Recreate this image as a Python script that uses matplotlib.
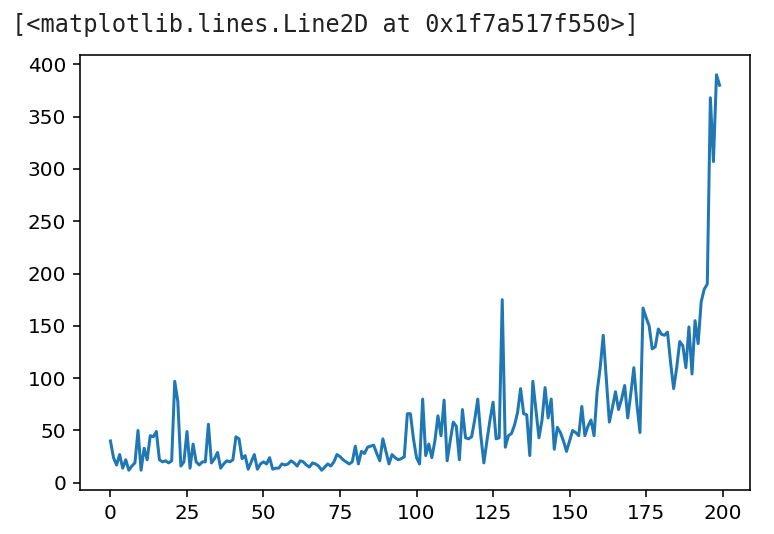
import numpy as np
import matplotlib
matplotlib.use('Agg')
import matplotlib.pyplot as plt

# values, index 0..199
vals = [40, 24, 17, 27, 14, 22, 12, 16, 19, 50,
        12, 33, 22, 45, 44, 49, 22, 20, 21, 19,
        21, 97, 78, 16, 20, 49, 14, 37, 20, 17,
        20, 20, 56, 19, 23, 29, 14, 18, 21, 20,
        22, 44, 42, 23, 26, 13, 20, 27, 13, 18,
        20, 18, 24, 13, 14, 14, 18, 17, 18, 21,
        19, 16, 21, 20, 17, 15, 19, 18, 16, 12,
        15, 18, 16, 20, 27, 25, 22, 20, 18, 20,
        35, 18, 30, 28, 34, 35, 36, 28, 21, 42,
        30, 18, 27, 24, 22, 23, 25, 66, 66, 42,
        24, 18, 80, 26, 37, 24, 40, 64, 45, 79,
        21, 40, 58, 54, 22, 70, 43, 42, 44, 60,
        80, 45, 19, 40, 60, 77, 42, 43, 175, 34,
        45, 47, 55, 67, 90, 66, 65, 26, 97, 70,
        43, 60, 91, 62, 80, 32, 53, 48, 40, 30,
        40, 50, 48, 45, 73, 45, 54, 60, 45, 87,
        110, 141, 100, 58, 72, 87, 70, 80, 93, 62,
        85, 110, 75, 48, 167, 158, 150, 128, 130, 147,
        142, 141, 144, 115, 90, 110, 135, 131, 110, 149,
        104, 155, 133, 173, 185, 190, 368, 307, 390, 380]

label = '[<matplotlib.lines.Line2D at 0x1f7a517f550>]'

fig = plt.figure(figsize=(7.74, 5.34), dpi=100)
ax = fig.add_axes([80/774, 44/534, 670/774, 435/534])
ax.plot(vals, color='#1f77b4', linewidth=2.16)

ax.tick_params(labelsize=14.4, length=5.0, width=1.15, pad=5)
for s in ax.spines.values():
    s.set_linewidth(1.15)
ax.set_xticks(range(0, 201, 25))
ax.set_yticks(range(0, 401, 50))

fig.text(12/774, 1 - 25/534, label, family='DejaVu Sans Mono',
         fontsize=17, va='center', ha='left', color='#222222')

fig.savefig('out.png', dpi=100)
